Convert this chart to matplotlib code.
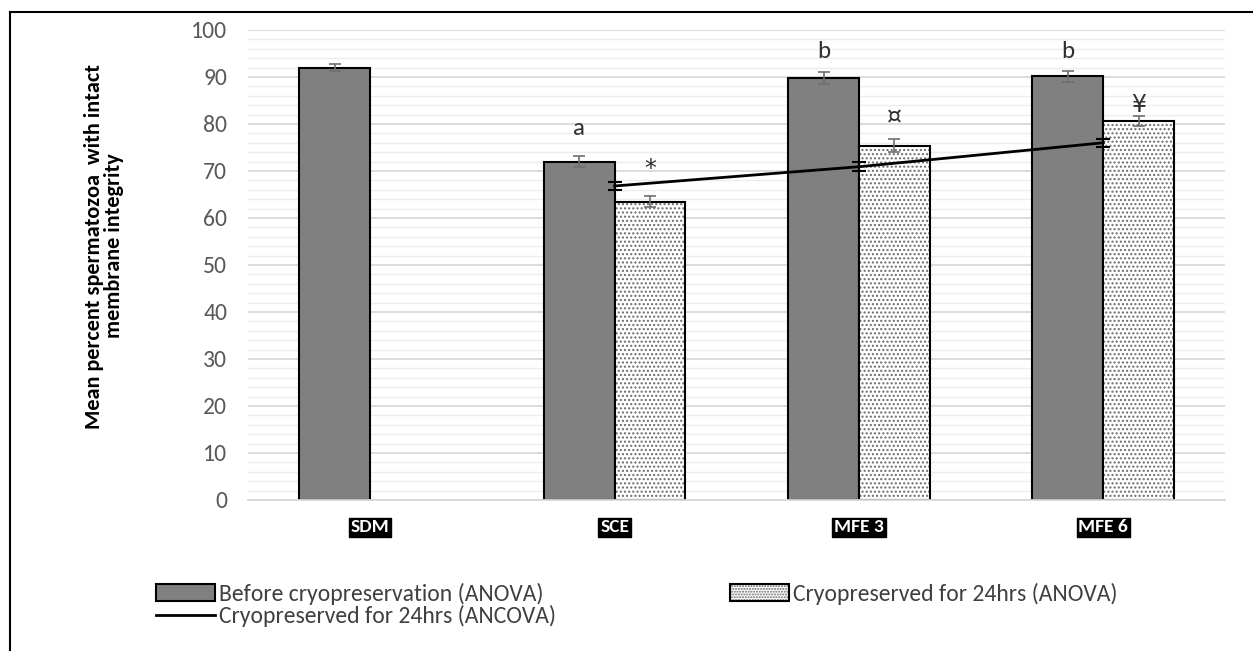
import numpy as np
import matplotlib
matplotlib.use("Agg")
import matplotlib.pyplot as plt
from matplotlib import font_manager
from matplotlib.patches import Patch
from matplotlib.lines import Line2D

# pick a Calibri-like family if available
_installed = {f.name for f in font_manager.fontManager.ttflist}
for fam in ["Carlito", "Lato", "Open Sans", "DejaVu Sans"]:
    if fam in _installed:
        FONT = fam
        break
plt.rcParams['font.family'] = [FONT, 'DejaVu Sans']
plt.rcParams['hatch.linewidth'] = 1.0

# data
groups = ["SDM", "SCE", "MFE 3", "MFE 6"]
before_mean = [92.0, 72.0, 89.8, 90.1]
before_err = [0.8, 1.2, 1.2, 1.1]
cryo_mean = [np.nan, 63.5, 75.4, 80.6]
cryo_err = [np.nan, 1.1, 1.4, 1.1]
ancova_mean = [66.8, 70.9, 76.0]
ancova_err = [0.8, 0.9, 0.9]
before_marks = ["", "a", "b", "b"]
cryo_marks = ["", "*", "\u00a4", "\u00a5"]
before_mark_y = [None, 79.0, 95.5, 95.5]
cryo_mark_y = [None, 70.5, 81.5, 84.0]

DARK = '#808080'
DOTS = '#6a6a6a'

fig = plt.figure(figsize=(12.53, 6.51), dpi=100)
ax = fig.add_axes([0.198, 0.232, 0.780, 0.722])

x = np.arange(len(groups))
w = 0.29

# gridlines (major every 10, minor every 2)
ax.set_ylim(0, 100)
ax.set_xlim(-0.5, 3.5)
ax.set_yticks(np.arange(0, 101, 10))
ax.set_yticks(np.arange(0, 101, 2), minor=True)
ax.grid(axis='y', which='major', color='#d9d9d9', lw=1.3, zorder=0)
ax.grid(axis='y', which='minor', color='#ededed', lw=1.0, zorder=0)
ax.set_axisbelow(True)

ax.bar(x - w / 2, before_mean, w, color=DARK, edgecolor='black',
       lw=1.5, zorder=2)
# dotted fill first, then a plain black outline on top
ax.bar(x + w / 2, cryo_mean, w, color='white', edgecolor=DOTS,
       lw=0, hatch='....', zorder=2)
ax.bar(x + w / 2, cryo_mean, w, fill=False, edgecolor='black',
       lw=1.5, zorder=2.5)

ax.errorbar(x - w / 2, before_mean, yerr=before_err, fmt='none',
            ecolor='#6e6e6e', elinewidth=1.2, capsize=4.5, capthick=1.2, zorder=3)
ax.errorbar(x + w / 2, cryo_mean, yerr=cryo_err, fmt='none',
            ecolor='#6e6e6e', elinewidth=1.2, capsize=4.5, capthick=1.2, zorder=3)

# ANCOVA adjusted means sit on the group centre
ax.errorbar(x[1:], ancova_mean, yerr=ancova_err, color='black', lw=2,
            ecolor='black', elinewidth=1.5, capsize=5, capthick=1.5, zorder=4)

for i in range(len(groups)):
    if before_marks[i]:
        ax.text(x[i] - w / 2, before_mark_y[i], before_marks[i], ha='center',
                va='center', fontsize=18, color='#303030')
    if cryo_marks[i]:
        ax.text(x[i] + w / 2, cryo_mark_y[i], cryo_marks[i], ha='center',
                va='center', fontsize=17, color='#303030',
                family=['DejaVu Sans'])

for s in ['top', 'right', 'left']:
    ax.spines[s].set_visible(False)
ax.spines['bottom'].set_color('#d9d9d9')
ax.spines['bottom'].set_linewidth(1.3)

ax.set_xticks(x)
ax.set_xticklabels(groups, fontsize=14, fontweight='bold', color='white')
for lbl in ax.get_xticklabels():
    lbl.set_bbox(dict(facecolor='black', edgecolor='black', pad=1.2))
ax.tick_params(axis='x', length=0, pad=14)
ax.tick_params(axis='y', which='both', length=0, pad=15, labelsize=17,
               labelcolor='#595959')

fig.text(0.083, 0.622, "Mean percent spermatozoa  with intact\nmembrane integrity",
         rotation=90, ha='center', va='center', fontsize=16,
         fontweight='bold', multialignment='center', linespacing=1.05)

handles = [
    Patch(facecolor=DARK, edgecolor='black', lw=1.5),
    Line2D([], [], color='black', lw=2),
    (Patch(facecolor='white', edgecolor=DOTS, lw=0, hatch='......'),
     Patch(fill=False, edgecolor='black', lw=1.5)),
]
labels = ["Before cryopreservation (ANOVA)",
          "Cryopreserved for 24hrs (ANCOVA)",
          "Cryopreserved for 24hrs (ANOVA)"]
fig.legend(handles, labels, ncol=2, loc='upper left',
           bbox_to_anchor=(0.1245, 0.105), frameon=False, fontsize=17,
           handlelength=2.5, handleheight=0.75, handletextpad=0.17,
           columnspacing=7.35, labelspacing=0.02, borderpad=0,
           borderaxespad=0, labelcolor='#404040')

# outer frame (left and top edges)
fig.add_artist(Line2D([0.008, 0.008], [0.0, 0.981], color='black', lw=1.5,
                      transform=fig.transFigure))
fig.add_artist(Line2D([0.008, 1.0], [0.981, 0.981], color='black', lw=1.5,
                      transform=fig.transFigure))

fig.savefig("out.png", dpi=100)
